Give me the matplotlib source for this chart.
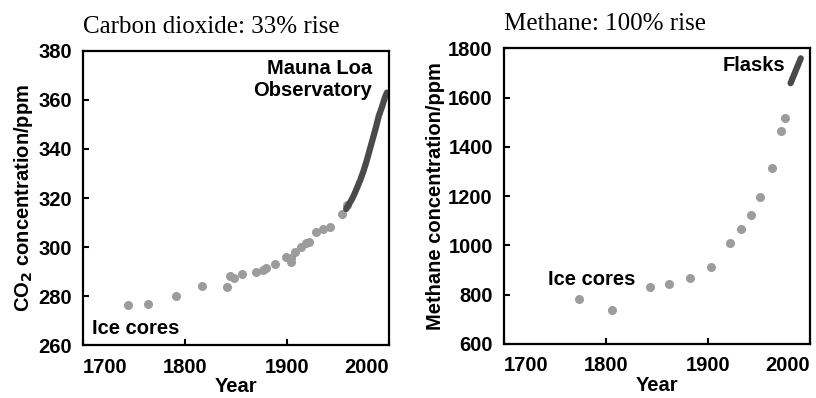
import matplotlib
matplotlib.use("Agg")
import matplotlib.pyplot as plt

# carbon dioxide, ice cores (year, ppm)
co2_ice_year = [1744, 1764, 1791, 1817, 1841, 1844, 1848, 1856, 1870, 1876, 1879,
                1888, 1899, 1904, 1904, 1908, 1914, 1919, 1922, 1928, 1935, 1942,
                1954, 1959]
co2_ice_ppm = [276.5, 276.8, 279.9, 283.9, 283.5, 288.0, 287.3, 288.9, 290.0, 290.6, 291.3,
               293.0, 296.1, 295.4, 294.0, 298.1, 300.1, 301.5, 302.1, 306.2, 307.5, 308.2,
               313.6, 317.0]

# Mauna Loa record
mlo_year = [1958, 1960, 1963, 1966, 1969, 1972, 1975, 1978, 1981, 1984, 1987, 1990, 1993, 1996, 1998]
mlo_ppm = [315.5, 317.0, 319.0, 321.5, 324.5, 327.5, 331.0, 335.0, 339.5, 344.0, 348.5, 353.5, 357.0, 361.0, 363.0]

# methane, ice cores
ch4_ice_year = [1774, 1806, 1843, 1862, 1882, 1903, 1922, 1932, 1942, 1951, 1963, 1972, 1976]
ch4_ice_val = [782, 738, 833, 843, 867, 914, 1012, 1066, 1124, 1198, 1314, 1466, 1517]

# flasks
flask_year = [1981, 1991]
flask_val = [1659, 1760]

xticks = [1700, 1800, 1900, 2000]

plt.rcParams['font.family'] = ['Liberation Sans', 'DejaVu Sans']
plt.rcParams['font.weight'] = 'bold'

fig = plt.figure(figsize=(8.16, 3.98), dpi=100)
ax1 = fig.add_axes([0.1017, 0.133, 0.375, 0.739])
ax2 = fig.add_axes([0.6176, 0.1357, 0.375, 0.7425])

dot_col = '#9c9c9c'
fs = 14.5


def style(ax, ylim, yticks):
    ax.set_xlim(1700, 2000)
    ax.set_ylim(*ylim)
    ax.set_xticks(xticks)
    ax.set_yticks(yticks)
    for s in ax.spines.values():
        s.set_linewidth(1.6)
    ax.tick_params(direction='in', length=4, width=1.5, labelsize=fs, pad=8)
    ax.tick_params(axis='x', pad=9)
    labs = ax.get_xticklabels()
    for lab in labs:
        lab.set_fontweight('bold')
    labs[0].set_ha('left')
    labs[-1].set_ha('right')
    for lab in ax.get_yticklabels():
        lab.set_fontweight('bold')
    ax.set_xlabel('Year', fontsize=fs, fontweight='bold', labelpad=0.5)


ax1.plot(co2_ice_year, co2_ice_ppm, 'o', ms=6.5, color=dot_col, mec='none')
ax1.plot(mlo_year, mlo_ppm, '-', lw=4.5, color='#4a4a4a', solid_capstyle='round')
style(ax1, (260, 380), [260, 280, 300, 320, 340, 360, 380])
ax1.set_ylabel('CO$_\\mathbf{2}$ concentration/ppm', fontsize=fs, fontweight='bold', labelpad=2)
ax1.set_title('Carbon dioxide: 33% rise', loc='left', family='Liberation Serif',
              fontweight='normal', fontsize=18, pad=13)
ax1.text(0.944, 0.971, 'Mauna Loa\nObservatory', transform=ax1.transAxes, ha='right',
         va='top', fontsize=fs, fontweight='bold', linespacing=1.15)
ax1.text(0.029, 0.037, 'Ice cores', transform=ax1.transAxes, ha='left', va='baseline',
         fontsize=fs, fontweight='bold')

ax2.plot(ch4_ice_year, ch4_ice_val, 'o', ms=6.5, color=dot_col, mec='none')
ax2.plot(flask_year, flask_val, '-', lw=4.5, color='#4a4a4a', solid_capstyle='round')
style(ax2, (600, 1800), [600, 800, 1000, 1200, 1400, 1600, 1800])
ax2.set_ylabel('Methane concentration/ppm', fontsize=fs, fontweight='bold', labelpad=2)
ax2.set_title('Methane: 100% rise', loc='left', family='Liberation Serif',
              fontweight='normal', fontsize=18, pad=13)
ax2.text(0.918, 0.924, 'Flasks', transform=ax2.transAxes, ha='right', va='baseline',
         fontsize=fs, fontweight='bold')
ax2.text(0.144, 0.2, 'Ice cores', transform=ax2.transAxes, ha='left', va='baseline',
         fontsize=fs, fontweight='bold')

fig.savefig('out.png', dpi=100)
